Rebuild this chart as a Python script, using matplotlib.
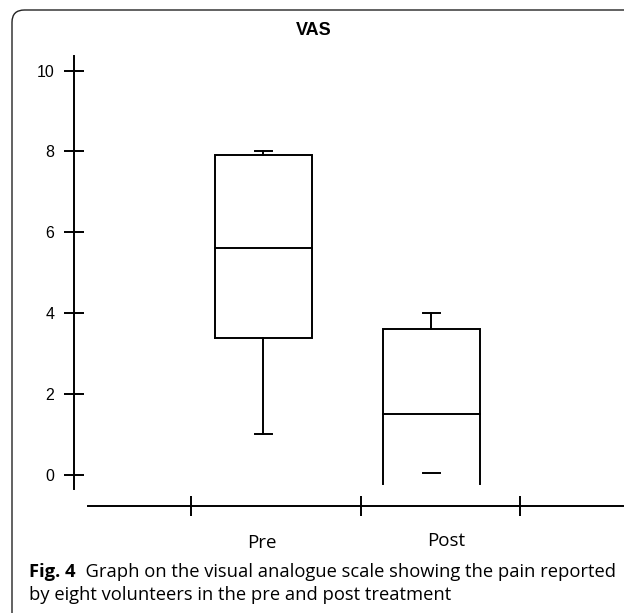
import matplotlib
matplotlib.use("Agg")
import matplotlib.pyplot as plt
from matplotlib.patches import FancyBboxPatch

# data (VAS scores)
groups = ["Pre", "Post"]
upper_cap = [8.0, 4.0]
q3 = [7.9, 3.6]
median = [5.6, 1.5]
q1 = [3.38, -0.23]
lower_cap = [1.0, 0.04]
lower_whisker = [True, False]   # Post: only the dash is drawn
closed_box = [True, False]      # Post box runs open out of the frame
yticks = [0, 2, 4, 6, 8, 10]
title = "VAS"
caption_bold = "Fig. 4"
caption_1 = "  Graph on the visual analogue scale showing the pain reported"
caption_2 = "by eight volunteers in the pre and post treatment"

W, H = 624, 613
fig = plt.figure(figsize=(W / 100, H / 100), dpi=100)

# axes placed so that 1 unit in x ~ 168 px and 1 unit in y ~ 40.4 px
ax = fig.add_axes([74 / W, 1 - 520 / H, (W - 74) / W, 480 / H])
ax.set_xlim(-0.128, 3.146)
ax.set_ylim(-1.126, 10.755)
ax.patch.set_alpha(0)

lw = 1.4
k = "black"
half = 0.29
cap = 0.048
pos = [1, 2]

for i, x in enumerate(pos):
    if closed_box[i]:
        ax.plot([x - half, x - half, x + half, x + half, x - half],
                [q1[i], q3[i], q3[i], q1[i], q1[i]], color=k, lw=lw,
                solid_joinstyle="miter")
    else:
        ax.plot([x - half, x - half, x + half, x + half],
                [q1[i], q3[i], q3[i], q1[i]], color=k, lw=lw,
                solid_joinstyle="miter")
    ax.plot([x - half, x + half], [median[i], median[i]], color=k, lw=lw)
    ax.plot([x, x], [q3[i], upper_cap[i]], color=k, lw=lw)
    ax.plot([x - cap, x + cap], [upper_cap[i], upper_cap[i]], color=k, lw=lw)
    if lower_whisker[i]:
        ax.plot([x, x], [q1[i], lower_cap[i]], color=k, lw=lw)
    ax.plot([x - cap, x + cap], [lower_cap[i], lower_cap[i]], color=k, lw=lw)

# axes lines
for s in ["top", "right"]:
    ax.spines[s].set_visible(False)
ax.spines["left"].set_bounds(-0.36, 10.37)
ax.spines["left"].set_linewidth(lw)
ax.spines["bottom"].set_position(("data", -0.78))
ax.spines["bottom"].set_bounds(-0.045, 3.14)
ax.spines["bottom"].set_linewidth(lw)

ax.set_yticks(yticks)
ax.set_yticklabels([str(t) for t in yticks], fontfamily="Liberation Sans", fontsize=11.5)
ax.tick_params(axis="y", direction="inout", length=14.4, width=lw, pad=7)
ax.set_xticks([0.568, 1.580, 2.527])
ax.set_xticklabels([])
ax.tick_params(axis="x", direction="inout", length=15, width=lw)

ax.text(1.3, 11.0, title, ha="center", va="center", fontsize=13,
        fontfamily="Liberation Sans", fontweight="bold", clip_on=False)
ax.text(0.99, -1.70, groups[0], ha="center", va="center", fontsize=13.5,
        fontfamily="Open Sans", clip_on=False)
ax.text(2.09, -1.64, groups[1], ha="center", va="center", fontsize=13.5,
        fontfamily="Open Sans", clip_on=False)

# caption
fs = 13.2
fig.text(29 / W, 1 - 577 / H, caption_bold, fontsize=fs, fontweight="bold",
         fontfamily="Open Sans", ha="left", va="baseline")
fig.canvas.draw()
bb = fig.texts[0].get_window_extent()
fig.text(bb.x1 / W, 1 - 577 / H, caption_1, fontsize=fs,
         fontfamily="Open Sans", ha="left", va="baseline")
fig.text(29 / W, 1 - 600 / H, caption_2, fontsize=fs,
         fontfamily="Open Sans", ha="left", va="baseline")

# rounded frame around the figure
frame = FancyBboxPatch((12 / W, -0.1), (640 - 12) / W, 1 - 10 / H + 0.1,
                       boxstyle="round,pad=0,rounding_size=0.02",
                       transform=fig.transFigure, fill=False,
                       edgecolor="#222222", lw=1.0)
fig.patches.append(frame)

fig.savefig("out.png", dpi=100)
